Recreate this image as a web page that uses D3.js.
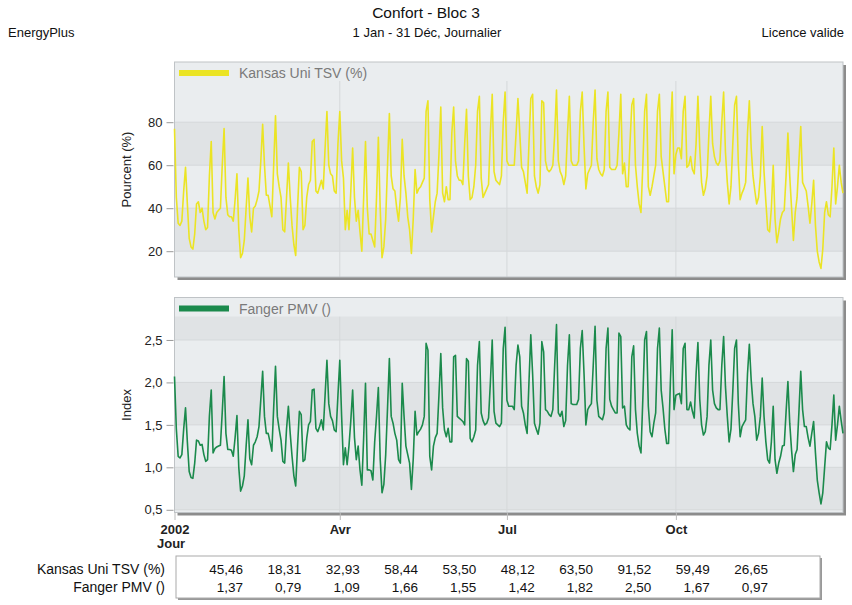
<!DOCTYPE html>
<html>
<head>
<meta charset="utf-8">
<script src="https://cdn.jsdelivr.net/npm/d3@7"></script>
<style>
  body { margin: 0; background: #fff; }
  text { font-family: 'Liberation Sans', Arial, sans-serif; }
</style>
</head>
<body>
<svg id="chart" width="852" height="605"></svg>
<script>
// daily values, 1 Jan .. 31 Dec 2002
const tsv = [
  77, 45, 33, 32, 34, 48, 59, 42, 26, 22, 21, 28, 42, 43, 38, 40, 34, 30, 31, 55,
  71, 38, 35, 38, 39, 40, 60, 77, 45, 37, 36, 36, 34, 44, 56, 30, 17, 19, 25, 40,
  54, 36, 29, 40, 41, 44, 48, 62, 79, 60, 46, 46, 41, 36, 60, 83, 56, 50, 45, 30,
  29, 45, 61, 45, 32, 23, 18, 40, 59, 57, 30, 32, 45, 51, 53, 71, 72, 48, 47, 50,
  53, 49, 68, 85, 60, 56, 55, 48, 47, 70, 85, 62, 54, 30, 39, 30, 48, 68, 45, 34,
  39, 29, 20, 45, 71, 40, 28, 28, 25, 22, 45, 73, 40, 17, 22, 35, 60, 84, 55, 49,
  48, 40, 34, 45, 72, 55, 47, 36, 30, 19, 35, 58, 47, 49, 50, 52, 54, 85, 90, 44,
  29, 36, 43, 47, 65, 87, 47, 43, 50, 44, 44, 75, 87, 62, 55, 53, 53, 51, 70, 86,
  55, 44, 45, 50, 60, 85, 92, 54, 45, 47, 49, 51, 75, 93, 57, 53, 52, 51, 55, 80,
  94, 62, 60, 60, 60, 60, 75, 91, 75, 59, 57, 52, 47, 70, 91, 93, 55, 50, 47, 51,
  90, 89, 62, 58, 57, 58, 60, 74, 95, 62, 57, 55, 51, 55, 75, 92, 62, 60, 60, 60,
  62, 85, 94, 69, 49, 56, 58, 60, 80, 95, 63, 58, 56, 55, 58, 85, 94, 59, 58, 58,
  58, 60, 75, 93, 56, 61, 50, 50, 70, 88, 91, 60, 50, 42, 38, 60, 85, 93, 50, 46,
  50, 55, 60, 85, 93, 64, 57, 50, 43, 43, 75, 94, 56, 65, 68, 68, 63, 85, 92, 59,
  60, 64, 58, 56, 70, 92, 68, 52, 46, 49, 55, 75, 92, 70, 64, 61, 60, 62, 80, 94,
  66, 52, 42, 50, 70, 88, 92, 61, 44, 47, 49, 52, 75, 90, 68, 55, 48, 42, 45, 55,
  78, 57, 43, 30, 29, 40, 60, 35, 24, 29, 35, 38, 39, 55, 75, 55, 40, 25, 38, 45,
  62, 78, 52, 50, 48, 41, 33, 42, 53, 32, 20, 15, 12, 21, 38, 43, 37, 36, 50, 68,
  42, 50, 60, 52, 47
]
const pmv = [
  2.07, 1.45, 1.13, 1.11, 1.15, 1.45, 1.70, 1.30, 0.95, 0.88, 0.87, 1.05, 1.32, 1.31, 1.26, 1.27, 1.15, 1.07, 1.09, 1.60,
  1.91, 1.17, 1.22, 1.24, 1.25, 1.26, 1.65, 2.07, 1.40, 1.21, 1.21, 1.20, 1.13, 1.35, 1.61, 1.00, 0.72, 0.78, 0.90, 1.25,
  1.56, 1.10, 1.03, 1.26, 1.30, 1.36, 1.48, 1.80, 2.13, 1.60, 1.40, 1.40, 1.30, 1.19, 1.70, 2.19, 1.60, 1.45, 1.32, 1.07,
  1.05, 1.45, 1.72, 1.40, 1.13, 0.90, 0.78, 1.25, 1.66, 1.62, 1.07, 1.09, 1.34, 1.50, 1.54, 1.91, 1.92, 1.46, 1.42, 1.48,
  1.56, 1.44, 1.85, 2.26, 1.75, 1.60, 1.55, 1.44, 1.42, 1.85, 2.26, 1.60, 1.03, 1.23, 1.03, 1.25, 1.55, 1.91, 1.35, 1.09,
  1.25, 0.97, 0.79, 1.35, 1.99, 0.97, 0.97, 0.96, 0.85, 1.30, 1.60, 1.94, 1.10, 0.70, 0.80, 1.15, 1.70, 2.28, 1.60, 1.52,
  1.40, 1.32, 1.09, 1.05, 1.99, 1.60, 1.25, 1.15, 1.05, 0.74, 1.10, 1.66, 1.38, 1.42, 1.45, 1.50, 1.60, 2.46, 2.38, 1.13,
  0.97, 1.25, 1.35, 1.40, 1.85, 2.34, 1.70, 1.44, 1.36, 1.46, 1.30, 1.30, 2.30, 2.32, 1.60, 1.58, 1.56, 1.54, 1.50, 2.28,
  2.25, 1.34, 1.30, 1.36, 1.44, 2.20, 2.48, 1.64, 1.55, 1.50, 1.52, 1.58, 2.00, 2.50, 1.66, 1.52, 1.50, 1.48, 1.52, 2.40,
  2.65, 1.79, 1.72, 1.72, 1.72, 1.68, 2.20, 2.44, 2.30, 1.72, 1.64, 1.50, 1.40, 2.00, 2.56, 2.10, 1.52, 1.45, 1.39, 1.52,
  2.48, 2.36, 1.68, 1.66, 1.62, 1.60, 1.68, 2.20, 2.68, 1.64, 1.60, 1.66, 1.48, 1.55, 2.20, 2.56, 1.75, 1.74, 1.74, 1.74,
  1.80, 2.40, 2.61, 2.10, 1.50, 1.68, 1.72, 1.75, 2.20, 2.66, 1.79, 1.60, 1.58, 1.56, 1.64, 2.40, 2.64, 1.80, 1.72, 1.68,
  1.64, 1.64, 2.58, 2.54, 1.70, 1.72, 1.50, 1.46, 1.44, 2.30, 2.43, 1.68, 1.40, 1.25, 1.17, 1.80, 2.50, 2.60, 1.72, 1.42,
  1.36, 1.52, 1.64, 2.40, 2.64, 1.91, 1.70, 1.45, 1.28, 1.28, 2.00, 2.62, 1.68, 1.85, 1.86, 1.87, 1.75, 2.40, 2.46, 1.68,
  1.68, 1.77, 1.66, 1.58, 2.10, 2.47, 1.80, 1.50, 1.38, 1.42, 1.60, 2.20, 2.50, 1.91, 1.75, 1.70, 1.68, 1.68, 2.20, 2.54,
  1.95, 1.60, 1.30, 1.45, 1.90, 2.40, 2.50, 1.75, 1.36, 1.48, 1.52, 1.56, 2.10, 2.45, 2.03, 1.75, 1.60, 1.32, 1.40, 1.60,
  2.05, 1.60, 1.30, 1.09, 1.05, 1.30, 1.72, 1.09, 0.93, 1.05, 1.13, 1.25, 1.26, 1.65, 2.01, 1.52, 1.20, 0.95, 1.15, 1.21,
  1.65, 2.13, 1.68, 1.48, 1.48, 1.35, 1.25, 1.40, 1.54, 1.17, 0.85, 0.70, 0.57, 0.70, 1.00, 1.30, 1.23, 1.21, 1.50, 1.85,
  1.32, 1.50, 1.72, 1.55, 1.40
]
const tsvTicks = [20, 40, 60, 80]
const pmvTicks = [0.5, 1.0, 1.5, 2.0, 2.5]
const xTickDates = [new Date(2002, 0, 1), new Date(2002, 3, 1), new Date(2002, 6, 1), new Date(2002, 9, 1)]
const xTickLabels = ['2002', 'Avr', 'Jul', 'Oct']
const tableLabels = ['Kansas Uni TSV (%)', 'Fanger PMV ()']
const tableTsv = ['45,46', '18,31', '32,93', '58,44', '53,50', '48,12', '63,50', '91,52', '59,49', '26,65']
const tablePmv = ['1,37', '0,79', '1,09', '1,66', '1,55', '1,42', '1,82', '2,50', '1,67', '0,97']

const svg = d3.select('#chart')
const left = 174.5
const right = 843
const bg = '#eaedef'
const bandFill = '#e0e3e5'
const gridColor = '#d5d8da'
const start = new Date(2002, 0, 1)
const dates = tsv.map((d, i) => d3.timeDay.offset(start, i))
const x = d3.scaleTime()
  .domain([start, new Date(2002, 11, 31)])
  .range([left, right])

// header
svg.append('text').attr('x', 426).attr('y', 18).attr('text-anchor', 'middle')
  .attr('font-size', 15.5).attr('fill', '#111').text('Confort - Bloc 3')
svg.append('text').attr('x', 427).attr('y', 37).attr('text-anchor', 'middle')
  .attr('font-size', 13).attr('fill', '#111').text('1 Jan - 31 Déc, Journalier')
svg.append('text').attr('x', 8).attr('y', 37)
  .attr('font-size', 13).attr('fill', '#111').text('EnergyPlus')
svg.append('text').attr('x', 844).attr('y', 37).attr('text-anchor', 'end')
  .attr('font-size', 13).attr('fill', '#111').text('Licence valide')

const panel = ({top, bottom, values, domain, ticks, fmt, color, legend, title}) => {
  const y = d3.scaleLinear().domain(domain).range([bottom, top])
  const g = svg.append('g')
  g.append('rect')
    .attr('x', left + 3).attr('y', top + 3)
    .attr('width', right - left).attr('height', bottom - top)
    .attr('fill', '#8c8c8c')
  g.append('rect')
    .attr('x', left).attr('y', top)
    .attr('width', right - left).attr('height', bottom - top)
    .attr('fill', bg)
  // bands alternate upward from the lowest tick, the first one shaded
  const edges = ticks.concat([domain[1]])
  const bands = d3.pairs(edges).filter((d, i) => i % 2 === 0)
  g.selectAll('rect.band').data(bands).enter().append('rect')
    .classed('band', true)
    .attr('x', left).attr('width', right - left)
    .attr('y', (d) => y(d[1])).attr('height', (d) => y(d[0]) - y(d[1]))
    .attr('fill', bandFill)
  g.selectAll('line.hgrid').data(ticks).enter().append('line')
    .classed('hgrid', true)
    .attr('x1', left).attr('x2', right)
    .attr('y1', (d) => y(d)).attr('y2', (d) => y(d))
    .attr('stroke', gridColor)
  g.selectAll('line.vgrid').data(xTickDates.slice(1)).enter().append('line')
    .classed('vgrid', true)
    .attr('x1', (d) => x(d)).attr('x2', (d) => x(d))
    .attr('y1', top).attr('y2', bottom)
    .attr('stroke', gridColor)
  // legend strip
  g.append('rect')
    .attr('x', left).attr('y', top)
    .attr('width', right - left).attr('height', 19)
    .attr('fill', bg)
  g.append('rect')
    .attr('x', left).attr('y', top)
    .attr('width', right - left).attr('height', bottom - top)
    .attr('fill', 'none').attr('stroke', '#bfc3c6')
  const line = d3.line()
    .x((d, i) => x(dates[i]))
    .y((d) => y(d))
  g.append('path')
    .datum(values)
    .attr('d', line)
    .attr('fill', 'none')
    .attr('stroke', color)
    .attr('stroke-width', 1.6)
    .attr('stroke-linejoin', 'round')
  g.append('rect')
    .attr('x', 179).attr('y', top + 8).attr('width', 50).attr('height', 6)
    .attr('fill', color)
  g.append('text')
    .attr('x', 239).attr('y', top + 16)
    .attr('font-size', 14).attr('fill', '#7a7a7a')
    .text(legend)
  const axis = d3.axisLeft(y).tickValues(ticks).tickFormat(fmt).tickSize(7).tickPadding(4)
  const ax = g.append('g')
    .attr('transform', 'translate(' + (left - 1) + ',0)')
    .call(axis)
  ax.select('path.domain').remove()
  ax.selectAll('line').attr('stroke', '#999')
  ax.selectAll('text').attr('font-size', 13).attr('fill', '#222')
    .attr('font-family', "'Liberation Sans', Arial, sans-serif")
  g.append('text')
    .attr('transform', 'translate(131,' + ((top + bottom) / 2) + ') rotate(-90)')
    .attr('text-anchor', 'middle')
    .attr('font-size', 13).attr('fill', '#222')
    .text(title)
  return y
}

panel({
  top: 62, bottom: 277, values: tsv, domain: [8, 108], ticks: tsvTicks,
  fmt: d3.format('d'), color: '#ebe424', legend: 'Kansas Uni TSV (%)', title: 'Pourcent (%)'
})
panel({
  top: 297.5, bottom: 512.5, values: pmv, domain: [0.468, 3.0], ticks: pmvTicks,
  fmt: (d) => d3.format('.1f')(d).replace('.', ','), color: '#1b8a4c', legend: 'Fanger PMV ()', title: 'Index'
})

// x axis
const xAxis = d3.axisBottom(x)
  .tickValues(xTickDates)
  .tickFormat((d, i) => xTickLabels[i])
  .tickSize(7)
  .tickPadding(5)
const xg = svg.append('g')
  .attr('transform', 'translate(0,513)')
  .call(xAxis)
xg.select('path.domain').remove()
xg.selectAll('line').attr('stroke', '#bbb')
xg.selectAll('text').attr('font-size', 13).attr('font-weight', 'bold').attr('fill', '#222')
  .attr('font-family', "'Liberation Sans', Arial, sans-serif")
svg.append('text').attr('x', 157).attr('y', 547.5)
  .attr('font-size', 13).attr('font-weight', 'bold').attr('fill', '#222').text('Jour')

// summary table
svg.append('rect').attr('x', 178).attr('y', 558).attr('width', 644).attr('height', 42).attr('fill', '#999')
svg.append('rect').attr('x', 176).attr('y', 556).attr('width', 644).attr('height', 42)
  .attr('fill', '#fff').attr('stroke', '#aaa')
const colX = d3.scalePoint().domain(d3.range(tableTsv.length)).range([243, 768])
tableLabels.forEach((label, r) => {
  const rowY = 574 + r * 18
  svg.append('text').attr('x', 165).attr('y', rowY).attr('text-anchor', 'end')
    .attr('font-size', 14).attr('fill', '#111').text(label)
  svg.selectAll('text.v' + r).data(r === 0 ? tableTsv : tablePmv).enter().append('text')
    .classed('v' + r, true)
    .attr('x', (d, i) => colX(i)).attr('y', rowY).attr('text-anchor', 'end')
    .attr('font-size', 13.5).attr('fill', '#111').text((d) => d)
})
</script>
</body>
</html>
